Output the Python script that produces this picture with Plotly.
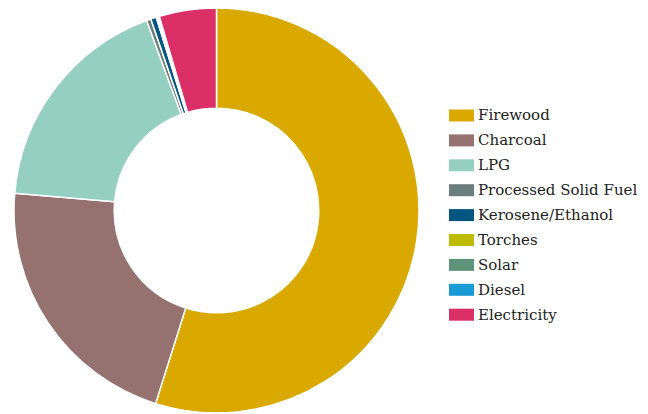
import plotly.graph_objects as go

labels = ["Firewood", "Charcoal", "LPG", "Processed Solid Fuel", "Kerosene/Ethanol",
          "Torches", "Solar", "Diesel", "Electricity"]
values = [54.9, 21.5, 18.05, 0.35, 0.45, 0.1, 0.1, 0.05, 4.56]
colors = ["#D9A900", "#957170", "#95CFC0", "#6A7F7D", "#005581",
          "#BFBB00", "#5E957A", "#1B9BD6", "#DB2F68"]

# page body adds an 8px margin, so the figure is sized to fit the window
W, H = 640, 406

fig = go.Figure(go.Pie(
    labels=labels, values=values, hole=0.505, sort=False, direction="clockwise",
    rotation=0, textinfo="none", hoverinfo="label+percent",
    marker=dict(colors=colors, line=dict(color="white", width=1.5)),
    domain=dict(x=[0.0, 417 / W], y=[1 / H, 1]),
    showlegend=False,
))

# legend drawn as swatches + text, built from the label/colour arrays
leg_x0, leg_x1, text_x = 441, 466, 468
first_y, step = 107.5, 24.9
shapes, annots = [], []
for i, (lab, col) in enumerate(zip(labels, colors)):
    cy = first_y + i * step
    shapes.append(dict(type="rect", xref="paper", yref="paper",
                       x0=leg_x0 / W, x1=leg_x1 / W,
                       y0=1 - (cy + 6) / H, y1=1 - (cy - 6) / H,
                       fillcolor=col, line=dict(width=0)))
    annots.append(dict(x=text_x / W, y=1 - cy / H, xref="paper", yref="paper",
                       text=lab, showarrow=False, xanchor="left", yanchor="middle",
                       font=dict(family="DejaVu Serif", size=15, color="#222")))

fig.update_layout(
    width=W, height=H, margin=dict(l=0, r=0, t=0, b=0),
    paper_bgcolor="white", plot_bgcolor="white",
    font=dict(family="DejaVu Serif", size=15, color="#222"),
    shapes=shapes, annotations=annots,
)
fig.write_html("out.html")
